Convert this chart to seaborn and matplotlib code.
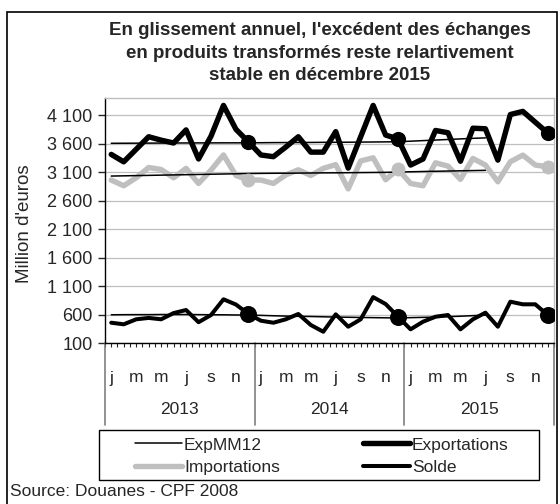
import pandas as pd
import matplotlib.pyplot as plt
import matplotlib.transforms as mtransforms
from matplotlib.patches import Rectangle
from matplotlib.ticker import FuncFormatter, FixedLocator
import seaborn as sns

# --- données (millions d'euros) ---
annees = ['2013', '2014', '2015']
mois = ['j', 'f', 'm', 'a', 'm', 'j', 'j', 'a', 's', 'o', 'n', 'd']

exportations = [3410, 3280, 3500, 3720, 3660, 3610, 3840, 3330, 3730, 4270, 3850, 3630,
                3400, 3370, 3540, 3720, 3450, 3450, 3810, 3170, 3720, 4270, 3750, 3680,
                3223, 3330, 3830, 3790, 3290, 3870, 3860, 3310, 4110, 4165, 3975, 3785]
importations = [2960, 2860, 3000, 3180, 3145, 3000, 3165, 2900, 3135, 3400, 3040, 2960,
                2960, 2900, 3050, 3140, 3040, 3165, 3230, 2805, 3295, 3350, 2965, 3150,
                2900, 2860, 3263, 3205, 2972, 3339, 3223, 2930, 3281, 3398, 3223, 3193]
solde = [456, 428, 516, 540, 516, 625, 679, 465, 591, 867, 775, 610,
         491, 456, 516, 609, 416, 298, 603, 386, 516, 905, 784, 561,
         340, 474, 561, 591, 340, 516, 632, 386, 825, 779, 779, 591]

exp_mm12 = [3605, 3606, 3607, 3608, 3609, 3610, 3611, 3612, 3612, 3613, 3613, 3614,
            3615, 3617, 3618, 3619, 3620, 3622, 3623, 3624, 3626, 3628, 3630, 3632,
            3642, 3652, 3662, 3672, 3682, 3692, 3700]
imp_mm12 = [3030, 3034, 3038, 3042, 3046, 3050, 3054, 3058, 3062, 3066, 3070, 3074,
            3077, 3079, 3080, 3082, 3084, 3086, 3087, 3089, 3091, 3093, 3095, 3100,
            3105, 3110, 3114, 3118, 3122, 3126, 3130]
solde_mm12 = [595, 597, 598, 598, 600, 600, 600, 598, 596, 595, 592, 590,
              585, 578, 572, 568, 565, 560, 555, 552, 548, 545, 542, 540,
              545, 550, 555, 562, 570, 580, 590]

decembres = [11, 23, 35]

titre = ("En glissement annuel, l'excédent des échanges\n"
         "en produits transformés reste relartivement\n"
         "stable en décembre 2015")
source = "Source: Douanes - CPF 2008"

df = pd.DataFrame({'t': range(len(exportations)),
                   'Exportations': exportations,
                   'Importations': importations,
                   'Solde': solde})
mm = pd.DataFrame({'t': range(len(exp_mm12)),
                   'ExpMM12': exp_mm12,
                   'ImpMM12': imp_mm12,
                   'SoldeMM12': solde_mm12})

sns.set_style("white")
plt.rcParams['font.family'] = ['Liberation Sans', 'DejaVu Sans']

fig = plt.figure(figsize=(5.6, 5.04), dpi=100)
ax = fig.add_axes([105 / 560, 1 - 343 / 504, 449 / 560, 245 / 504])

gris = '#BFBFBF'
sns.lineplot(data=df, x='t', y='Exportations', color='black', lw=3.9, ax=ax, label='Exportations')
sns.lineplot(data=df, x='t', y='Importations', color=gris, lw=3.9, ax=ax, label='Importations')
sns.lineplot(data=df, x='t', y='Solde', color='black', lw=2.9, ax=ax, label='Solde')
sns.lineplot(data=mm, x='t', y='ExpMM12', color='black', lw=1.1, ax=ax, label='ExpMM12')
sns.lineplot(data=mm, x='t', y='ImpMM12', color='black', lw=1.1, ax=ax)
sns.lineplot(data=mm, x='t', y='SoldeMM12', color='black', lw=1.1, ax=ax)

ax.scatter(decembres, [exportations[i] for i in decembres], s=120, color='black', zorder=5, lw=0)
ax.scatter(decembres, [importations[i] for i in decembres], s=100, color=gris, zorder=5, lw=0)
ax.scatter(decembres, [solde[i] for i in decembres], s=150, color='black', zorder=5, lw=0)

handles, labels = ax.get_legend_handles_labels()
ax.get_legend().remove()

# axes
ax.set_xlim(-0.5, 35.5)
ax.set_ylim(100, 4400)
ax.set_yticks(range(100, 4101, 500))
ax.yaxis.set_major_formatter(FuncFormatter(lambda v, p: format(int(v), ',').replace(',', ' ')))
ax.tick_params(axis='y', direction='out', length=5, width=1, labelsize=13, pad=4, left=True)
ax.set_xticks([])
ax.xaxis.set_minor_locator(FixedLocator([k * 0.5 - 0.5 for k in range(73)]))
ax.tick_params(axis='x', which='minor', direction='out', length=3, width=0.8, bottom=True)
ax.set_xlabel('')
ax.set_ylabel('')
ax.yaxis.grid(True, color=gris, lw=0.9)
for s in ['left', 'bottom']:
    ax.spines[s].set_color('black')
    ax.spines[s].set_linewidth(1)
for s in ['top', 'right']:
    ax.spines[s].set_color(gris)
    ax.spines[s].set_linewidth(1)

# étiquettes de l'axe des catégories
trans = mtransforms.blended_transform_factory(ax.transData, ax.transAxes)
for i in range(0, 36, 2):
    ax.text(i, -(378 - 343) / 245, mois[i % 12], transform=trans,
            ha='center', va='center', fontsize=12.5)
for k, an in enumerate(annees):
    ax.text(12 * k + 5.5, -(409 - 343) / 245, an, transform=trans,
            ha='center', va='center', fontsize=12.5)
for x in [-0.5, 11.5, 23.5, 35.5]:
    ax.plot([x, x], [0, -(425 - 343) / 245], transform=trans, color='#7F7F7F',
            lw=1.2, clip_on=False)

fig.text(25 / 560, 1 - 224 / 504, "Million d'euros", rotation=90,
         ha='center', va='center', fontsize=13.5)
fig.text(320 / 560, 1 - 53 / 504, titre, ha='center', va='center',
         fontweight='bold', fontsize=13.5, linespacing=1.42)
fig.text(10 / 560, 1 - 491 / 504, source, ha='left', va='center', fontsize=12.5)

# légende sans cadre, cadre dessiné à part
ordre = ['ExpMM12', 'Importations', 'Exportations', 'Solde']
h = [handles[labels.index(n)] for n in ordre]
leg = fig.legend(h, ordre, ncol=2, loc='center',
                 bbox_to_anchor=(322 / 560, 1 - 456 / 504),
                 frameon=False, fontsize=12.5,
                 handlelength=2.7, handletextpad=0.1, columnspacing=4.8,
                 borderpad=0.3, labelspacing=0.4)
fig.add_artist(Rectangle((99 / 560, 1 - 480 / 504), 440 / 560, 50 / 504,
                         transform=fig.transFigure, fill=False,
                         edgecolor='black', lw=1))

fig.add_artist(Rectangle((7 / 560, -0.01), 550 / 560, 1 - 12 / 504 + 0.01,
                         transform=fig.transFigure, fill=False,
                         edgecolor='black', lw=1.2))

plt.savefig('out.png', dpi=100)
